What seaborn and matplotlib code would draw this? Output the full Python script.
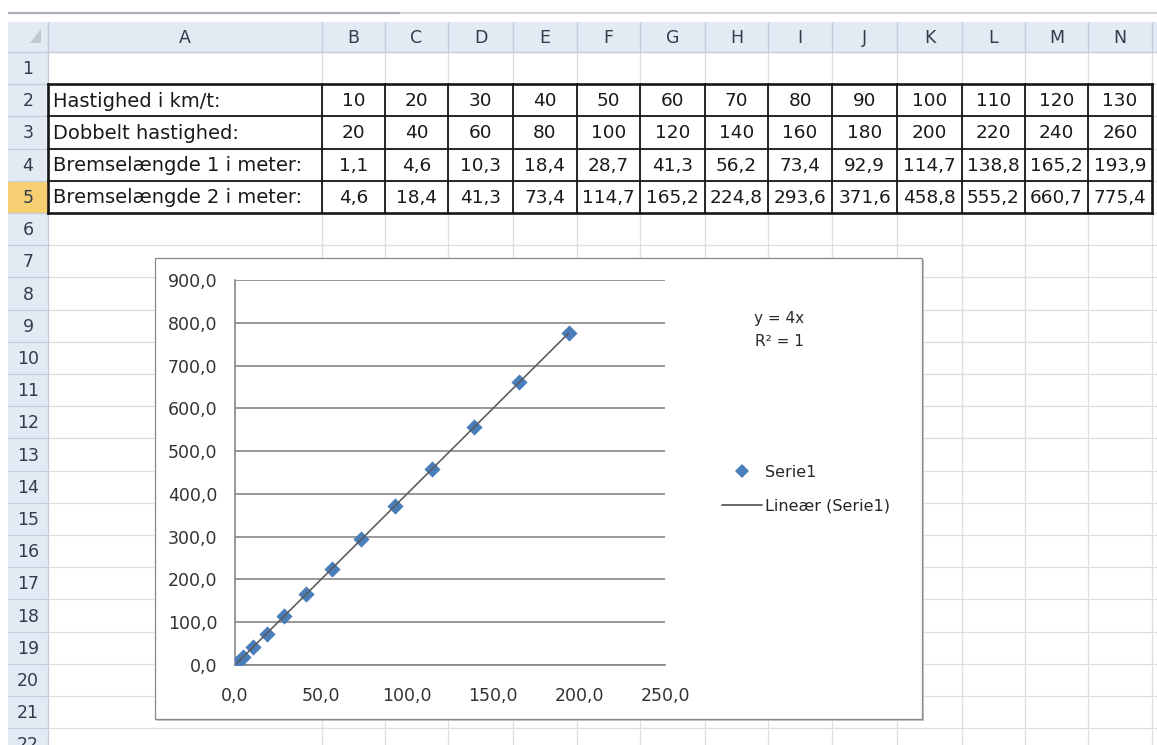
import numpy as np
import matplotlib
matplotlib.use("Agg")
import matplotlib.pyplot as plt
from matplotlib.patches import Rectangle, Polygon
from matplotlib.lines import Line2D
import seaborn as sns

# ---- worksheet contents ----
column_letters = list("ABCDEFGHIJKLMN")
row_titles = ["Hastighed i km/t:", "Dobbelt hastighed:",
              "Bremselængde 1 i meter:", "Bremselængde 2 i meter:"]
speed_kmh = [10, 20, 30, 40, 50, 60, 70, 80, 90, 100, 110, 120, 130]
double_speed = [20, 40, 60, 80, 100, 120, 140, 160, 180, 200, 220, 240, 260]
brake_1 = [1.1, 4.6, 10.3, 18.4, 28.7, 41.3, 56.2, 73.4, 92.9, 114.7, 138.8, 165.2, 193.9]
brake_2 = [4.6, 18.4, 41.3, 73.4, 114.7, 165.2, 224.8, 293.6, 371.6, 458.8, 555.2, 660.7, 775.4]
x_ticks = [0, 50, 100, 150, 200, 250]
y_ticks = [0, 100, 200, 300, 400, 500, 600, 700, 800, 900]
series_name = "Serie1"
trend_name = "Lineær (Serie1)"

W, H = 1157, 745
PT = 0.72  # points per pixel at dpi 100

sns.set_theme(style="white")
plt.rcParams["font.family"] = ["DejaVu Sans"]

fig = plt.figure(figsize=(W / 100, H / 100), dpi=100)
fig.patch.set_facecolor("white")

# full-figure canvas in pixel coordinates for the sheet itself
bg = fig.add_axes([0, 0, 1, 1])
bg.set_xlim(0, W)
bg.set_ylim(H, 0)
bg.axis("off")

col_edges = [48, 322, 385, 448, 513, 577, 640, 705, 768, 832, 897, 962, 1025, 1088, 1152]
header_top, header_bot = 22, 52
row_h = 32.2


def row_top(n):
    return header_bot + (n - 1) * row_h


n_rows = 22
head_bg = "#E3EAF3"
head_line = "#C3CCD8"
grid_c = "#DCDEE0"
txt_c = "#1A1A1A"
head_txt = "#323D4A"

# top bar
bg.plot([8, 400], [13, 13], color="#A9B0BA", lw=2.2 * PT, solid_capstyle="butt")
bg.plot([400, W], [13, 13], color="#D3D8DE", lw=2.2 * PT, solid_capstyle="butt")

# cell grid
for n in range(1, n_rows + 2):
    y = row_top(n)
    bg.plot([48, W], [y, y], color=grid_c, lw=1.3 * PT, zorder=1)
for x in col_edges[1:]:
    bg.plot([x, x], [header_bot, H], color=grid_c, lw=1.3 * PT, zorder=1)

# column header strip
bg.add_patch(Rectangle((8, header_top), W - 8, header_bot - header_top,
                       facecolor=head_bg, edgecolor="none", zorder=2))
bg.plot([8, W], [header_bot, header_bot], color=head_line, lw=1.3 * PT, zorder=3)
for x in col_edges:
    bg.plot([x, x], [header_top, header_bot], color=head_line, lw=1.3 * PT, zorder=3)
for i, letter in enumerate(column_letters):
    bg.text((col_edges[i] + col_edges[i + 1]) / 2, (header_top + header_bot) / 2 + 1,
            letter, ha="center", va="center", fontsize=12.5, color=head_txt, zorder=4)

# corner triangle
bg.add_patch(Polygon([(41, 29), (41, 43), (30, 43)], closed=True,
                     facecolor="#BFC7D1", edgecolor="none", zorder=4))

# row header strip
bg.add_patch(Rectangle((8, header_bot), 40, H - header_bot,
                       facecolor=head_bg, edgecolor="none", zorder=2))
bg.add_patch(Rectangle((8, row_top(5)), 40, row_h,
                       facecolor="#F6CF72", edgecolor="none", zorder=2.5))
bg.plot([48, 48], [header_top, H], color=head_line, lw=1.3 * PT, zorder=3)
for n in range(1, n_rows + 1):
    y = row_top(n)
    bg.plot([8, 48], [y + row_h, y + row_h], color=head_line, lw=1.2 * PT, zorder=3)
    bg.text(28, y + row_h / 2 + 1, str(n), ha="center", va="center",
            fontsize=12.5, color=head_txt, zorder=4)


def fmt(v):
    if isinstance(v, float):
        return f"{v:.1f}".replace(".", ",")
    return str(v)


# data table (rows 2-5)
table_rows = [speed_kmh, double_speed, brake_1, brake_2]
for r, (title, values) in enumerate(zip(row_titles, table_rows)):
    top = row_top(r + 2)
    yc = top + row_h / 2 + 1
    bg.text(col_edges[0] + 5, yc, title, ha="left", va="center",
            fontsize=14, color=txt_c, zorder=6)
    for c, v in enumerate(values):
        bg.text((col_edges[c + 1] + col_edges[c + 2]) / 2, yc, fmt(v),
                ha="center", va="center", fontsize=13.3, color=txt_c, zorder=6)

t_top, t_bot = row_top(2), row_top(6)
for n in range(2, 7):
    y = row_top(n)
    outer = n in (2, 6)
    bg.plot([col_edges[0], col_edges[-1]], [y, y], color="#151515",
            lw=(2.6 if outer else 1.8) * PT, zorder=5, solid_capstyle="projecting")
for i, x in enumerate(col_edges):
    outer = i in (0, len(col_edges) - 1)
    bg.plot([x, x], [t_top, t_bot], color="#151515",
            lw=(2.6 if outer else 1.8) * PT, zorder=5, solid_capstyle="projecting")

# chart frame
cx0, cy0, cx1, cy1 = 155, 258, 922, 719
bg.add_patch(Rectangle((cx0 + 2, cy0 + 2), cx1 - cx0, cy1 - cy0,
                       facecolor="#C9C9C9", edgecolor="none", zorder=7))
bg.add_patch(Rectangle((cx0, cy0), cx1 - cx0, cy1 - cy0,
                       facecolor="white", edgecolor="#8A8A8A", lw=1.3 * PT, zorder=8))

# trendline equation
slope, intercept = np.polyfit(brake_1, brake_2, 1)
r2 = np.corrcoef(brake_1, brake_2)[0, 1] ** 2
eq_text = f"y = {slope:.0f}x\nR\u00b2 = {r2:.0f}"
bg.text(779, 330, eq_text, ha="center", va="center", fontsize=11,
        color="#2A2A2A", linespacing=1.65, zorder=9)

# ---- scatter chart ----
px_l, px_r, px_t, px_b = 235, 665, 280, 665
ax = fig.add_axes([px_l / W, (H - px_b) / H, (px_r - px_l) / W, (px_b - px_t) / H])
ax.patch.set_alpha(0)

axis_c = "#838383"
blue = "#4A7EBB"

sns.scatterplot(x=brake_1, y=brake_2, marker="D", s=68, color=blue,
                linewidth=0, ax=ax, zorder=3, legend=False)
sns.regplot(x=brake_1, y=brake_2, scatter=False, ci=None, truncate=True, ax=ax,
            line_kws=dict(color="#5A5A5A", lw=1.6 * PT, zorder=4))

ax.set_xlim(0, 250)
ax.set_ylim(0, 900)
ax.set_xticks(x_ticks)
ax.set_yticks(y_ticks)
ax.set_xticklabels([f"{t:.1f}".replace(".", ",") for t in x_ticks])
ax.set_yticklabels([f"{t:.1f}".replace(".", ",") for t in y_ticks])
ax.set_xlabel("")
ax.set_ylabel("")
ax.yaxis.grid(True, color=axis_c, lw=1.6 * PT)
ax.xaxis.grid(False)
for side in ("top", "right"):
    ax.spines[side].set_visible(False)
for side in ("left", "bottom"):
    ax.spines[side].set_color(axis_c)
    ax.spines[side].set_linewidth(1.6 * PT)
ax.tick_params(axis="both", direction="out", length=5 * PT, width=1.6 * PT,
               color=axis_c, labelsize=12.5, labelcolor="#333333")
ax.tick_params(axis="y", pad=9)
ax.tick_params(axis="x", pad=12)

handles = [
    Line2D([], [], marker="D", color=blue, linestyle="none", markersize=7,
           markeredgewidth=0),
    Line2D([], [], color="#5A5A5A", lw=1.8 * PT),
]
ax.legend(handles, [series_name, trend_name], loc="center left",
          bbox_to_anchor=(722 / W, (H - 489) / H), bbox_transform=fig.transFigure,
          frameon=False, fontsize=11.5, handlelength=2.5, handletextpad=0.2,
          labelspacing=1.15, borderpad=0, borderaxespad=0)

fig.savefig("out.png", dpi=100, facecolor="white")
